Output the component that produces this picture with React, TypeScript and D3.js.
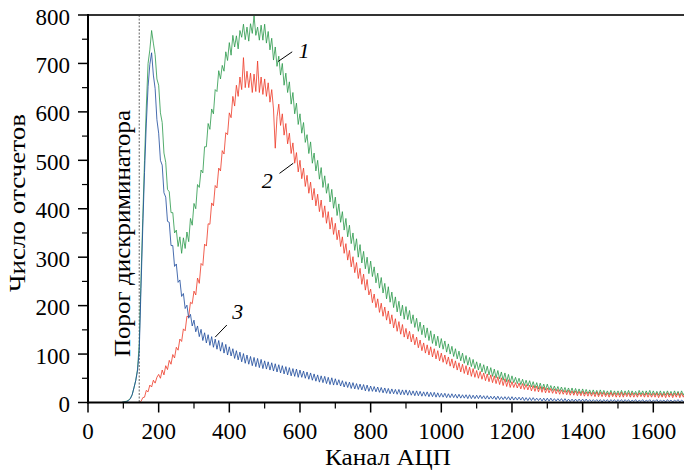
import React from 'react';
import * as d3 from 'd3';

// ADC channel grid (step 5)
const channels: number[] = d3.range(0, 1701, 5);

// Curve 1 (green)
const series1: number[] = [
  0,0,0,0,0,0,0,0,0,0,0,0,0,0,0,0,0,0,0,0,
  1,2,3,5,9,16,30,45,68,120,255,380,500,610,700,728,768,742,718,668,
  655,598,578,515,496,440,435,392,392,350,356,322,342,308,340,318,352,332,380,366,
  411,400,450,444,480,474,528,528,576,564,606,596,646,642,685,668,696,684,724,706,
  743,717,758,734,757,730,768,754,781,749,775,746,782,762,798,758,775,748,779,748,
  781,742,766,728,752,707,734,694,715,676,700,655,680,640,662,616,640,596,618,574,
  596,556,578,537,553,514,538,494,515,478,500,461,485,444,468,432,452,414,440,401,
  424,386,410,372,394,356,380,342,366,328,350,314,338,300,326,288,312,276,300,266,
  292,260,280,247,267,236,258,226,246,214,239,207,228,196,218,187,209,179,201,172,
  198,171,190,163,181,155,174,147,166,140,160,134,154,128,148,122,141,117,137,113,
  132,110,127,104,121,100,116,95,111,90,106,86,102,81,97,77,93,74,89,70,
  84,67,81,63,78,60,75,57,72,54,69,51,66,49,63,46,61,43,58,41,
  55,41,52,39,50,37,48,35,46,34,45,32,43,30,41,28,40,27,38,26,
  38,26,35,25,34,24,33,23,32,22,31,21,30,20,30,19,29,19,28,18,
  28,18,27,18,26,17,26,17,25,16,26,17,25,16,24,16,25,15,24,16,
  24,16,25,15,24,16,25,15,24,16,23,15,25,16,24,15,24,16,25,15,
  24,15,23,15,24,14,23,15,24,15,23,14,24,15,23,14,24,15,23,14,
  22,
];

// Curve 2 (red)
const series2: number[] = [
  0,0,0,0,0,0,0,0,0,0,0,0,0,0,0,0,0,0,0,0,
  0,0,0,0,0,0,0,0,0,0,2,10,11,25,22,36,32,46,40,52,
  58,50,67,57,76,68,87,79,99,92,114,108,131,126,152,148,178,177,207,204,
  230,222,257,246,287,283,327,323,369,368,412,406,448,443,484,478,520,513,557,553,
  598,588,632,612,655,632,672,646,712,650,684,650,680,640,678,642,705,640,672,636,
  668,632,660,620,646,606,525,590,616,572,596,552,576,534,556,514,536,494,516,476,
  500,462,484,446,469,432,455,418,442,406,430,394,418,382,406,370,394,358,382,347,
  370,336,356,322,342,308,328,294,314,280,301,268,289,256,277,244,265,232,254,222,
  234,206,224,196,214,186,205,178,197,170,189,162,181,154,173,147,167,141,161,135,
  153,131,147,125,141,119,135,113,129,107,123,102,119,98,115,94,111,90,107,86,
  102,83,98,79,94,75,90,71,86,67,82,63,79,60,76,57,73,54,70,52,
  66,50,64,48,61,45,59,43,57,41,55,39,53,37,51,35,49,33,47,31,
  43,31,41,30,40,28,39,27,37,26,36,24,35,23,34,22,33,21,32,20,
  30,20,29,19,28,18,27,17,26,17,25,16,25,15,24,15,24,14,23,14,
  23,13,22,13,22,13,21,12,22,12,21,12,21,12,20,11,21,12,20,11,
  20,11,21,11,20,12,20,11,20,11,19,11,20,12,19,11,20,11,19,11,
  19,11,20,10,19,11,19,10,20,11,19,10,19,11,20,10,19,11,19,10,
  18,
];

// Curve 3 (blue)
const series3: number[] = [
  0,0,0,0,0,0,0,0,0,0,0,0,0,0,0,0,0,0,0,0,
  1,1,2,4,8,16,30,45,65,105,235,360,475,575,652,698,722,676,648,584,
  556,500,490,433,424,374,372,324,324,281,286,248,253,219,225,194,201,174,182,158,
  170,146,158,136,151,128,144,123,140,118,136,114,131,110,128,106,124,102,120,98,
  115,96,111,91,107,88,104,84,101,81,98,79,95,76,93,74,91,72,89,70,
  86,69,84,67,82,65,80,63,78,61,76,59,74,57,72,55,70,54,69,52,
  67,52,65,50,63,48,61,46,59,44,57,42,55,41,54,39,52,37,51,36,
  49,36,47,34,45,32,43,31,42,29,41,28,39,27,38,26,37,24,36,23,
  34,23,33,22,32,21,31,20,30,19,29,18,28,18,27,17,27,16,26,16,
  26,15,25,15,24,14,24,14,23,13,22,13,22,12,21,12,21,11,20,11,
  19,11,19,10,18,10,18,10,17,9,17,9,16,9,16,8,16,8,15,8,
  15,8,15,8,14,7,14,7,13,7,13,6,13,6,12,6,12,6,12,5,
  12,5,11,5,11,5,11,4,10,4,10,4,10,4,9,4,9,3,9,3,
  9,3,9,3,8,3,8,3,8,2,8,2,7,2,7,2,7,2,7,2,
  7,2,7,2,6,2,6,2,6,2,6,1,6,2,6,1,6,2,6,1,
  6,2,6,1,6,2,6,1,5,2,6,1,5,2,6,1,5,2,6,1,
  5,2,6,1,5,2,5,1,6,2,5,1,5,2,6,1,5,2,5,1,
  4,
];

const xTickValues: number[] = [0, 200, 400, 600, 800, 1000, 1200, 1400, 1600];
const xMinorValues: number[] = [100, 300, 500, 700, 900, 1100, 1300, 1500];
const yTickValues: number[] = [0, 100, 200, 300, 400, 500, 600, 700, 800];
const yMinorValues: number[] = [50, 150, 250, 350, 450, 550, 650, 750];

const thresholdChannel = 145;

// curve labels: [label, textX, textY, leaderX1, leaderY1, leaderX2, leaderY2] in data units
const curveLabels: [string, number, number, number, number, number, number][] = [
  ['1', 596, 712, 538, 704, 578, 724],
  ['2', 492, 443, 542, 473, 581, 494],
  ['3', 408, 172, 360, 135, 393, 160],
];

const FONT = '"Liberation Serif", "DejaVu Serif", serif';

export default function App() {
  const x = d3.scaleLinear().domain([0, 1600]).range([88, 653.3]);
  const y = d3.scaleLinear().domain([0, 800]).range([402.5, 15]);
  const mk = (vals: number[]) =>
    d3.line<number>().x((_, i) => x(channels[i])).y((d) => y(d))(vals) || '';

  const x0 = x(0);
  const xEnd = 684;
  const yTop = y(800);
  const yBot = y(0);

  return (
    <svg
      width={684}
      height={473}
      style={{ position: 'absolute', left: 0, top: 0, background: '#fff' }}
      fontFamily={FONT}
    >
      <rect x={0} y={0} width={684} height={473} fill="#fff" />
      {/* threshold dashed line */}
      <line
        x1={x(thresholdChannel)}
        x2={x(thresholdChannel)}
        y1={yTop}
        y2={yBot}
        stroke="#666"
        strokeWidth={1}
        strokeDasharray="2,1.5"
      />
      {/* curves */}
      <path d={mk(series1)} fill="none" stroke="#2b9a4b" strokeWidth={0.9} strokeOpacity={0.9} />
      <path d={mk(series2)} fill="none" stroke="#ee3a28" strokeWidth={0.9} strokeOpacity={0.9} />
      <path d={mk(series3)} fill="none" stroke="#1d4a9c" strokeWidth={0.9} strokeOpacity={0.9} />

      {/* top frame */}
      <line x1={x0} x2={xEnd} y1={yTop} y2={yTop} stroke="#333" strokeWidth={2} />
      {/* axes */}
      <line x1={x0} x2={x0} y1={yTop - 1} y2={yBot + 1} stroke="#000" strokeWidth={2} />
      <line x1={x0 - 1} x2={xEnd} y1={yBot} y2={yBot} stroke="#000" strokeWidth={2} />

      {/* x ticks */}
      {xTickValues.map((v) => (
        <g key={'xt' + v}>
          <line x1={x(v)} x2={x(v)} y1={yBot} y2={yBot + 10} stroke="#000" strokeWidth={1.5} />
          <text x={x(v)} y={yBot + 36} textAnchor="middle" fontSize={23}>
            {v}
          </text>
        </g>
      ))}
      {xMinorValues.map((v) => (
        <line key={'xm' + v} x1={x(v)} x2={x(v)} y1={yBot} y2={yBot + 6} stroke="#000" strokeWidth={1.2} />
      ))}
      {/* y ticks */}
      {yTickValues.map((v) => (
        <g key={'yt' + v}>
          <line x1={x0 - 10} x2={x0} y1={y(v)} y2={y(v)} stroke="#000" strokeWidth={1.5} />
          <text x={70} y={y(v) + 9.5} textAnchor="end" fontSize={23}>
            {v}
          </text>
        </g>
      ))}
      {yMinorValues.map((v) => (
        <line key={'ym' + v} x1={x0 - 6} x2={x0} y1={y(v)} y2={y(v)} stroke="#000" strokeWidth={1.2} />
      ))}

      {/* axis titles */}
      <text
        x={388}
        y={465}
        textAnchor="middle"
        fontSize={23}
        textLength={126}
        lengthAdjust="spacingAndGlyphs"
      >
        Канал АЦП
      </text>
      <text
        transform="translate(25,203) rotate(-90)"
        textAnchor="middle"
        fontSize={23}
        textLength={178}
        lengthAdjust="spacingAndGlyphs"
      >
        Число отсчетов
      </text>
      <text
        transform="translate(130,233.5) rotate(-90)"
        textAnchor="middle"
        fontSize={23}
        textLength={247}
        lengthAdjust="spacingAndGlyphs"
      >
        Порог дискриминатора
      </text>

      {/* curve labels */}
      {curveLabels.map(([t, tx, ty, a1, b1, a2, b2]) => (
        <g key={'cl' + t}>
          <line x1={x(a1)} y1={y(b1)} x2={x(a2)} y2={y(b2)} stroke="#000" strokeWidth={1} />
          <text x={x(tx)} y={y(ty)} fontSize={22} fontStyle="italic">
            {t}
          </text>
        </g>
      ))}
    </svg>
  );
}
